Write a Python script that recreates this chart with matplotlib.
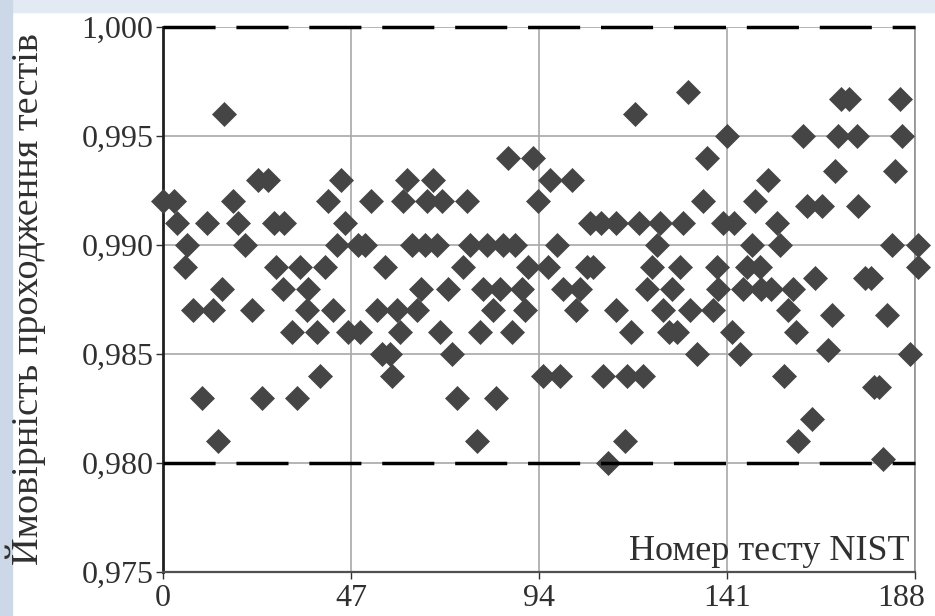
import matplotlib.pyplot as plt
from matplotlib.patches import Rectangle
from matplotlib.ticker import FuncFormatter
from matplotlib.transforms import ScaledTranslation

plt.rcParams['font.family'] = ['Liberation Serif', 'DejaVu Serif']

# probability levels and the NIST test numbers whose points sit on each level
levels = [0.997, 0.9967, 0.996, 0.995, 0.994, 0.9934, 0.993, 0.992, 0.9918,
          0.991, 0.990, 0.989, 0.9885, 0.988, 0.987, 0.9868, 0.986, 0.985,
          0.9852, 0.984, 0.9835, 0.983, 0.982, 0.981, 0.980, 0.9802]
tests_by_level = [
    [131.3],
    [169.5, 171.5, 184.25],
    [15.25, 118],
    [140.9, 160, 168.8, 173.4, 184.7],
    [86.3, 92.5, 135.9],
    [168, 183],
    [23.8, 26.3, 44.5, 61, 67.6, 96.75, 102.2, 151.3],
    [0, 2.8, 17.6, 41.3, 52, 60, 65.9, 69.7, 75.9, 93.8, 135.1, 148],
    [161, 164.7, 173.8],
    [3.4, 10.9, 18.8, 27.8, 30.3, 45.5, 106.75, 109.5, 113.2, 119, 124.3,
     130, 140, 142.7, 153.4],
    [6.1, 20.5, 43.4, 48.8, 50.5, 62.2, 65.5, 68.4, 76.75, 80.9, 85, 88,
     98.4, 123.5, 147.2, 154.25, 182.2, 188.75],
    [5.5, 28.2, 34.25, 40.5, 55.5, 75, 91.3, 96.3, 105.9, 107.6, 122.2,
     129.25, 138.4, 145.9, 149.25, 188.75],
    [163, 175.5, 177],
    [14.7, 30.1, 36.3, 64.5, 71.3, 80.1, 84.25, 89.7, 100.1, 104.25, 120.9,
     127.2, 138.8, 145.1, 149.5, 152, 157.6],
    [7.6, 12.6, 22.2, 35.9, 42.6, 53.4, 58.5, 63.6, 82.6, 90.4, 103.2, 113.2,
     125, 131.75, 137.4, 156.3],
    [167.2, 181],
    [32.2, 38.4, 46.3, 49.25, 59.25, 69.25, 79.25, 87.2, 117, 126.5, 128.5,
     142.2, 158.2],
    [54.7, 56.75, 72.2, 133.4, 144.25, 186.75],
    [166.3],
    [39.25, 57.2, 95, 99.25, 110, 115.9, 120.1, 155.3],
    [177.8, 179],
    [9.7, 24.7, 33.4, 73.4, 83.3],
    [162.2],
    [13.8, 78.4, 115.5, 158.8],
    [111.3],
    [180],
]

x_ticks = [0, 47, 94, 141, 188]
y_ticks = [0.975, 0.980, 0.985, 0.990, 0.995, 1.000]
limits = [0.980, 1.000]

fig = plt.figure(figsize=(9.35, 6.16), dpi=100)
fig.patch.set_facecolor('white')

# light bluish frame strips of the slide
fig.add_artist(Rectangle((0, 1 - 12 / 616), 1, 12 / 616, transform=fig.transFigure,
                         color='#e3eaf3', zorder=0))
fig.add_artist(Rectangle((0, 0), 12 / 935, 1, transform=fig.transFigure,
                         color='#ccd8e8', zorder=0))

ax = fig.add_axes([163 / 935, 44 / 616, 752 / 935, 545 / 616])

xs, ys = [], []
for lvl, tests in zip(levels, tests_by_level):
    for t in tests:
        xs.append(t)
        ys.append(lvl)
ax.plot(xs, ys, linestyle='none', marker='D', markersize=12,
        color='#454545', markeredgecolor='#454545', markeredgewidth=0.5,
        clip_on=False, zorder=3)

for lim in limits:
    ax.axhline(lim, color='black', linewidth=2.5, dashes=(15, 6),
               clip_on=False, zorder=4)

ax.set_xlim(0, 188)
ax.set_ylim(0.975, 1.000)
ax.set_xticks(x_ticks)
ax.set_yticks(y_ticks)
ax.yaxis.set_major_formatter(FuncFormatter(lambda v, p: f"{v:.3f}".replace('.', ',')))

ax.grid(True, color='#a8a8a8', linewidth=1.2)
ax.set_axisbelow(True)

ax.spines['top'].set_visible(False)
ax.spines['right'].set_color('#909090')
ax.spines['right'].set_linewidth(1.2)
ax.spines['bottom'].set_color('#505050')
ax.spines['bottom'].set_linewidth(1.6)
ax.spines['left'].set_color('#202020')
ax.spines['left'].set_linewidth(2)

ax.tick_params(axis='both', labelsize=23, colors='#303030', length=5, width=1)
ax.tick_params(axis='x', pad=4)
ax.tick_params(axis='y', pad=2)

# pull the last x label slightly left so it stays inside the picture
last = ax.get_xticklabels()[-1]
last.set_transform(last.get_transform() + ScaledTranslation(-0.14, 0, fig.dpi_scale_trans))

ax.text(0.993, 0.022, 'Номер тесту NIST', transform=ax.transAxes,
        ha='right', va='baseline', fontsize=26, color='#303030')

fig.text(26 / 935, 0.515, 'Ймовірність проходження тестів', rotation=90,
         ha='center', va='center', fontsize=27.5, color='#303030')

fig.savefig('out.png', dpi=100)
